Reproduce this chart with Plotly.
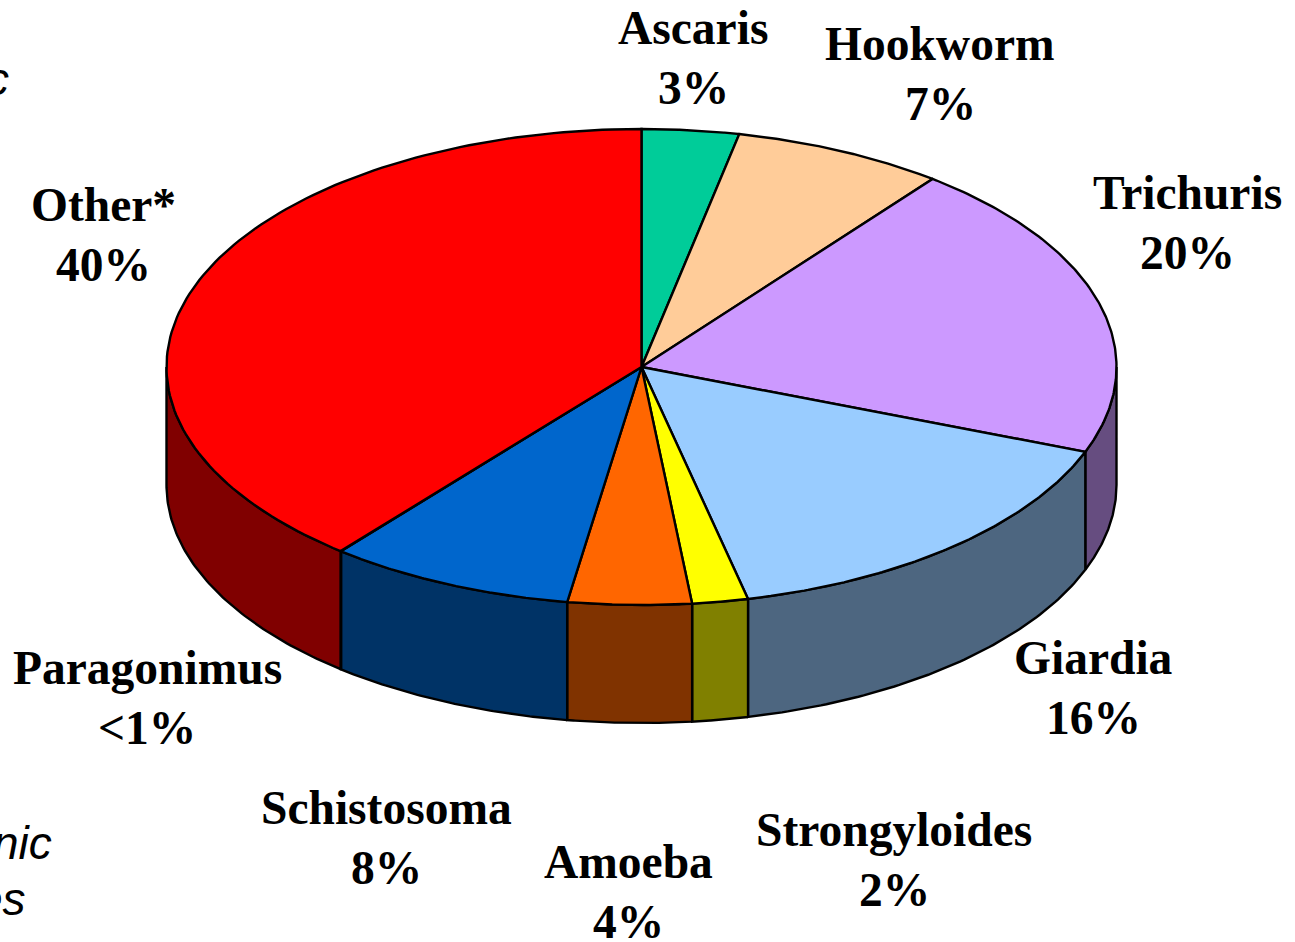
import numpy as np
import plotly.graph_objects as go

# Slices clockwise from 12 o'clock, shares
names = ["Ascaris", "Hookworm", "Trichuris", "Giardia", "Strongyloides", "Amoeba", "Schistosoma", "Paragonimus", "Other*"]
shares = [3.3, 7.2, 20.3, 15.6, 1.9, 4.2, 8.4, 0.02, 39.08]
share_labels = ["3%", "7%", "20%", "16%", "2%", "4%", "8%", "<1%", "40%"]
top_colors = ["#00CC99", "#FFCC99", "#CC99FF", "#99CCFF", "#FFFF00", "#FF6600", "#0066CC", "#0066CC", "#FF0000"]
side_colors = ["#006650", "#80664D", "#664D80", "#4D6680", "#808000", "#803300", "#003366", "#003366", "#800000"]

# label anchors in page pixels
label_x = [693, 940, 1187, 1093, 894, 628, 386, 147, 103]
label_y = [57.5, 73.5, 222.5, 687.5, 859.5, 891.5, 837.5, 697.5, 234.5]

# bits of the slide text cut off at the left edge
side_text = ["c", "nic", "es"]
side_text_x = [11, 54, 28]
side_text_y = [79, 843, 899]

# pie geometry
cx, cy = 641.5, 367
rx, ry = 475, 238
depth = 118


def ellipse(a):
    # a = degrees clockwise from the top
    t = np.radians(a)
    return cx + rx * np.sin(t), cy - ry * np.cos(t)


fig = go.Figure()

edges = np.concatenate([[0], np.cumsum(shares)]) * 360 / sum(shares)

# side walls first, only the front half of the pie shows them
for i in range(len(shares)):
    a0 = max(edges[i], 90)
    a1 = min(edges[i + 1], 270)
    if a1 <= a0:
        continue
    arc = np.linspace(a0, a1, 80)
    x, y = ellipse(arc)
    wall_x = list(x) + list(x[::-1]) + [x[0]]
    wall_y = list(y + depth) + list(y[::-1]) + [y[0] + depth]
    fig.add_trace(go.Scatter(x=wall_x, y=wall_y, mode="lines", fill="toself",
                             fillcolor=side_colors[i], line=dict(color="black", width=2.4),
                             hoverinfo="skip", showlegend=False))

# top of the pie
for i in range(len(shares)):
    arc = np.linspace(edges[i], edges[i + 1], 120)
    x, y = ellipse(arc)
    fig.add_trace(go.Scatter(x=[cx] + list(x) + [cx], y=[cy] + list(y) + [cy], mode="lines", fill="toself",
                             fillcolor=top_colors[i], line=dict(color="black", width=2.4),
                             name=names[i], showlegend=False))

for i in range(len(names)):
    # name and share sit 60 px apart, tighter than plotly's own line height
    fig.add_annotation(x=label_x[i], y=label_y[i] - 30, text=f"<b>{names[i]}</b>",
                       showarrow=False, xanchor="center", yanchor="middle",
                       font=dict(family="Liberation Serif", size=47.5, color="black"))
    fig.add_annotation(x=label_x[i], y=label_y[i] + 30, text=f"<b>{share_labels[i]}</b>",
                       showarrow=False, xanchor="center", yanchor="middle",
                       font=dict(family="Liberation Serif", size=47.5, color="black"))

for i in range(len(side_text)):
    fig.add_annotation(x=side_text_x[i], y=side_text_y[i], text=f"<i>{side_text[i]}</i>",
                       showarrow=False, xanchor="right", yanchor="middle",
                       font=dict(family="Liberation Sans", size=46, color="black"))

fig.update_xaxes(range=[0, 1295], visible=False)
fig.update_yaxes(range=[942, 0], visible=False)
fig.update_layout(width=1295, height=942, margin=dict(l=0, r=0, t=0, b=0),
                  plot_bgcolor="white", paper_bgcolor="white")

# the page's default 8 px body margin would push the whole figure off
fig.write_html("out.html", config={"displayModeBar": False},
               post_script="document.body.style.margin='0';")
